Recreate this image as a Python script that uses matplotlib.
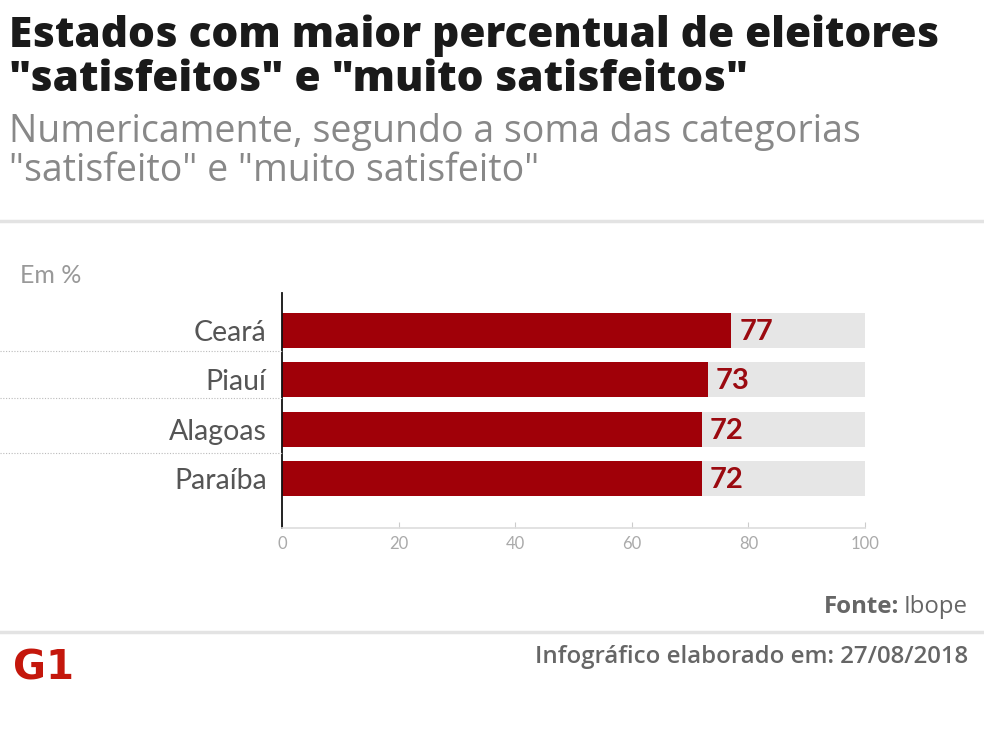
import matplotlib
matplotlib.use("Agg")
import matplotlib.pyplot as plt
from matplotlib.lines import Line2D

categories = ["Ceará", "Piauí", "Alagoas", "Paraíba"]
values = [77, 73, 72, 72]
xticks = [0, 20, 40, 60, 80, 100]
full = 100

W, H = 984, 751
fig = plt.figure(figsize=(W/100, H/100), dpi=100)
fig.patch.set_facecolor("white")

def fx(px): return px / W
def fy(py): return 1 - py / H

ax = fig.add_axes([fx(282), fy(528), fx(865) - fx(282), (528 - 293) / H])
ax.set_xlim(0, 100)
ax.set_ylim(4.0, -0.76)
ypos = list(range(len(categories)))
ax.barh(ypos, [full]*len(values), height=0.71, color="#e6e6e6", zorder=1)
ax.barh(ypos, values, height=0.71, color="#a00008", zorder=2)
for y, v in zip(ypos, values):
    ax.annotate(str(v), (v, y), xytext=(6, -1), textcoords="offset points",
                ha="left", va="center", fontsize=21, fontweight="bold",
                color="#9b0a10", family="Lato")
ax.set_yticks(ypos)
ax.set_yticklabels(categories, fontsize=20.5, color="#555555", family="Lato")
ax.tick_params(axis="y", length=0, pad=11)
ax.set_xticks(xticks)
ax.set_xticklabels([str(t) for t in xticks], fontsize=12, color="#aaaaaa", family="Lato")
ax.tick_params(axis="x", direction="in", length=4, color="#cccccc", pad=6)
for s in ["top", "right"]:
    ax.spines[s].set_visible(False)
ax.spines["left"].set_color("#111111")
ax.spines["left"].set_linewidth(1.3)
ax.spines["bottom"].set_color("#dddddd")
ax.spines["bottom"].set_linewidth(1.2)

# dotted separators left of axis
for py in [351, 398, 453]:
    fig.add_artist(Line2D([0, fx(282)], [fy(py), fy(py)], color="#bbbbbb",
                          linewidth=0.8, linestyle=(0, (1, 1.5))))

# header
fig.text(fx(9), fy(36), "Estados com maior percentual de eleitores", fontsize=30.5,
         fontweight="heavy", color="#1a1a1a", family="Open Sans", va="center", ha="left")
fig.text(fx(9), fy(80), "\"satisfeitos\" e \"muito satisfeitos\"", fontsize=30.5,
         fontweight="heavy", color="#1a1a1a", family="Open Sans", va="center", ha="left")
fig.text(fx(9), fy(132), "Numericamente, segundo a soma das categorias", fontsize=27,
         color="#888888", family="Open Sans", va="center", ha="left")
fig.text(fx(9), fy(171), "\"satisfeito\" e \"muito satisfeito\"", fontsize=27,
         color="#888888", family="Open Sans", va="center", ha="left")
fig.add_artist(Line2D([0, 1], [fy(221), fy(221)], color="#e3e3e3", linewidth=2.5))

fig.text(fx(20), fy(275), "Em %", fontsize=18, color="#999999", family="Lato",
         va="center", ha="left")

# footer
t_ib = fig.text(fx(968), fy(607), "Ibope", fontsize=17.3, color="#666666",
                family="Open Sans", va="center", ha="right")
fig.canvas.draw()
bb = t_ib.get_window_extent()
fig.text((bb.x0 - 5) / W, fy(607), "Fonte:", fontsize=17.3, color="#666666",
         family="Open Sans", fontweight="bold", va="center", ha="right")
fig.add_artist(Line2D([0, 1], [fy(632), fy(632)], color="#e3e3e3", linewidth=2.5))
fig.text(fx(968), fy(657), "Infográfico elaborado em: 27/08/2018", fontsize=17.3,
         color="#666666", family="Open Sans", fontweight="semibold", va="center", ha="right")
fig.text(fx(13), fy(668), "G1", fontsize=29, color="#c4170c", family="DejaVu Sans",
         fontweight="bold", va="center", ha="left")

fig.savefig("out.png", dpi=100, facecolor="white")
